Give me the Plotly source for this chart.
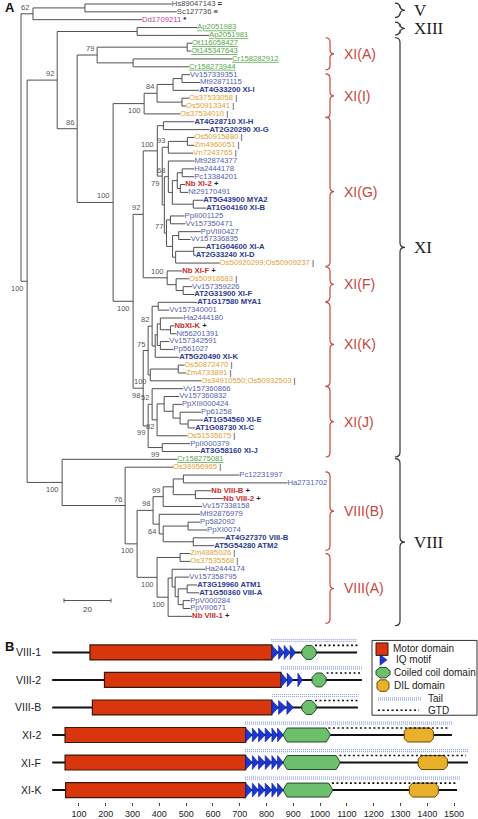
import re
import plotly.graph_objects as go

W, H = 478, 819

# ---------------- Panel A data ----------------
leaf_names = [
    "Hs89047143", "Sc127736", "Dd1709211", "Ap2051983", "Ap2051981", "Ot116058427",
    "Ot145347643", "Cr158282912", "Cr158273944", "Vv157339351", "Mt92871115",
    "AT4G33200 XI-I", "Os37533058", "Os50913341", "Os37534010", "AT4G28710 XI-H",
    "AT2G20290 XI-G", "Os50915880", "Zm4960051", "Vn7243765", "Mt92874377", "Ha2444178",
    "Pc13384201", "Nb XI-2", "Nt29170491", "AT5G43900 MYA2", "AT1G04160 XI-B",
    "PpII001125", "Vv157350471", "PpVIII0427", "Vv157336835", "AT1G04600 XI-A",
    "AT2G33240 XI-D", "Os50920299;Os50909237", "Nb XI-F", "Os50918683", "Vv157359226",
    "AT2G31900 XI-F", "AT1G17580 MYA1", "Vv157340001", "Ha2444180", "NbXI-K",
    "Nt56201391", "Vv157342591", "Pp561027", "AT5G20490 XI-K", "Os50872470",
    "Zm4733891", "Os34910550;Os50932503", "Vv157360866", "Vv157360832", "PpXIII000424",
    "Pp61258", "AT1G54560 XI-E", "AT1G08730 XI-C", "Os51535675", "PpII000379",
    "AT3G58160 XI-J", "Cr158275081", "Os36956965", "Pc12231997", "Ha2731702",
    "Nb VIII-B", "Nb VIII-2", "Vv157338158", "Mt92876979", "Pp582092", "PpXI0074",
    "AT4G27370 VIII-B", "AT5G54280 ATM2", "Zm4885026", "Os37535568", "Ha2444174",
    "Vv157358795", "AT3G19960 ATM1", "AT1G50360 VIII-A", "PpV000284", "PpVII0671",
    "Nb VIII-1"]

prefix_group = {"Hs": "out", "Sc": "out", "Dd": "dd", "Ap": "alga", "Ot": "alga",
                "Cr": "alga", "AT": "at", "Nb": "nb", "Os": "mono", "Zm": "mono",
                "Vn": "mono"}
special_marks = {"Hs89047143": "=", "Sc127736": "\u2261", "Dd1709211": "*"}
group_marks = {"mono": "|", "nb": "+"}

# tree (Newick, leaves = L<index>, internal label = bootstrap + ^above/_below)
nw_V = "((L0:37.0,L1:39.1):22.1,L2:46.4)62^"
nw_XIII = "(L3:25.5,L4:30.6)"
nw_XIA = "((L5:2.1,L6:1.7):38.3,(L7:42.1,L8:23.8):15.3)79^"
nw_XII = "((((L9:3.4,L10:7.7):3.8,L11:11.1):6.8,(L12:3.0,L13:1.7):10.6)84^:5.5,L14:15.3)100_"
nw_G_a = "((L17:3.0,L18:3.0):8.1,L19:10.6)93^"
nw_G_b = "(L20:11.1,(((L21:5.1,L22:5.1):2.1,(L23:2.1,L24:3.4):1.3):2.1,(L25:4.3,L26:5.5):8.9):1.7)68^"
nw_G_c = "((L27:6.0,L28:6.4):1.7,((L29:9.4,L30:5.1):2.6,((L31:5.1,L32:0.9):7.7,L33:18.7):1.3):2.6)77^"
nw_XIG = "((L15:13.2,L16:19.6):2.6,(" + nw_G_a + ":2.6,(" + nw_G_b + ":1.7," + nw_G_c + ":0.9):0.9)79_:2.1)100^"
nw_XIF = "(L34:6.4,(L35:5.5,(L36:3.8,L37:4.7):3.0):3.8)100^"
nw_XIK = ("(((L38:16.6,L39:4.7):2.6,(((L40:9.8,(L41:1.7,L42:2.6):4.3):1.3,(L43:3.8,L44:5.5):1.3):0.9,"
          "L45:10.2):1.3)82^:1.7,((L46:2.6,L47:3.4):11.9,L48:21.7)100_:0.9)75^")
nw_XIJ = ("((L49:13.2,((L50:6.4,(L51:3.8,(L52:8.9,(L53:6.4,L54:3.0):3.4):3.0):3.8):3.0,L55:12.8)82_:2.1)52^:1.7,"
          "(L56:11.9,L57:16.2)99_:6.0)99_")
nw_VIIIB = ("((((L60:23.8,L61:44.3):4.3,(L62:6.8,L63:11.9):9.4):4.3,L64:16.6)99^:4.3,"
            "(L65:17.4,((L66:5.1,L67:8.1):10.6,(L68:13.6,L69:8.9):12.8):1.7)64_:2.6)98^")
nw_VIIIA = ("((L70:4.3,L71:4.3):9.8,((L72:14.0,(L73:6.0,((L74:4.3,L75:5.1):3.8,(L76:3.0,L77:3.0):2.1):1.3):1.3):1.7,"
            "L78:10.2)100_:4.7)100_")
nw_VIII = "(L58:48.9,(L59:20.4,(" + nw_VIIIB + ":6.8," + nw_VIIIA + ":8.5)100_:5.1)76^:26.8)100_"
nw_XI = ("(" + nw_XIA + ":8.5,(" + nw_XII + ":13.2,((" + nw_XIG + ":6.0," + nw_XIF + ":10.2)92^:4.3,("
         + nw_XIK + ":2.1," + nw_XIJ + ":2.1)98_:4.3)100_:8.5)100^:15.3)86^")
tree_newick = "(" + nw_V + ":5.1,((" + nw_XIII + ":34.0," + nw_XI + ":8.5)92^:12.8," + nw_VIII + ":14.9)100_:2.6);"

scale_bar_len = 20

red_clades = [("XI(A)", 4.3, 8.4), ("XI(I)", 8.9, 14.5), ("XI(G)", 14.4, 33.4),
              ("XI(F)", 33.5, 37.9), ("XI(K)", 38.0, 48.7), ("XI(J)", 48.7, 57.7),
              ("VIII(B)", 59.6, 69.6), ("VIII(A)", 70.0, 78.9)]
black_clades = [("V", -0.1, 1.7), ("XIII", 2.3, 3.95), ("XI", 4.3, 57.7), ("VIII", 57.9, 79.2)]

# ---------------- Panel B data ----------------
proteins = ["VIII-1", "VIII-2", "VIII-B", "XI-2", "XI-F", "XI-K"]
prot_len = [1138, 1156, 1141, 1492, 1552, 1511]
motor = [(141, 820), (195, 854), (150, 820), (48, 722), (48, 722), (50, 722)]
iq_xi = [(722, 747), (747, 770), (770, 795), (795, 820), (820, 841), (841, 863)]
iq = [[(820, 845), (845, 866), (866, 888), (888, 909)],
      [(855, 877), (877, 900), (917, 934)],
      [(820, 845), (845, 874), (876, 901)],
      iq_xi, iq_xi, iq_xi]
coil = [(932, 985), (970, 1022), (932, 985), (863, 1037), (863, 1074), (863, 1046)]
dil = [None, None, None, (1314, 1423), (1366, 1475), (1333, 1441)]
tail = [(818, 1138), (854, 1156), (820, 1143), (720, 1497), (720, 1553), (720, 1522)]
gtd = [(981, 1143), (1024, 1156), (981, 1143), (1031, 1485), (1072, 1545), (1044, 1512)]
tick_vals = list(range(100, 1501, 100))

# ---------------- helpers / layout constants ----------------
PXU = 2.35           # px per tree unit
X0PX = 21            # root px
ROW0, ROWSTEP = 4, 7.87
def U(px):
    return (px - X0PX) / PXU
def PX(x):
    return x / W
def PY(y):
    return 1 - y / H

FONT = "Liberation Sans, Arial, sans-serif"

# ---------------- parse tree ----------------
def parse_newick(s):
    s = re.sub(r"\s+", "", s).rstrip(";")
    pos = 0
    def node():
        nonlocal pos
        ch = []
        if s[pos] == "(":
            pos += 1
            while True:
                ch.append(node())
                if s[pos] == ",":
                    pos += 1
                    continue
                pos += 1
                break
        m = re.match(r"[^:,()]*", s[pos:])
        lab = m.group(0)
        pos += len(lab)
        bl = 0.0
        if pos < len(s) and s[pos] == ":":
            pos += 1
            m = re.match(r"[0-9.]+", s[pos:])
            bl = float(m.group(0))
            pos += len(m.group(0))
        return {"label": lab, "bl": bl, "children": ch}
    return node()

root = parse_newick(tree_newick)
counter = [0]
def layout(n, x):
    n["x"] = x + n["bl"]
    if not n["children"]:
        n["leaf"] = int(n["label"][1:])
        n["y"] = counter[0]
        counter[0] += 1
    else:
        for c in n["children"]:
            layout(c, n["x"])
        n["y"] = (n["children"][0]["y"] + n["children"][-1]["y"]) / 2
root["bl"] = 0.0
layout(root, 0.0)

lx, ly = [], []
nodes = []
def collect(n):
    nodes.append(n)
    if n["children"]:
        ys = [c["y"] for c in n["children"]]
        lx.extend([n["x"], n["x"], None]); ly.extend([min(ys), max(ys), None])
        for c in n["children"]:
            lx.extend([n["x"], c["x"], None]); ly.extend([c["y"], c["y"], None])
            collect(c)
collect(root)

GROUP_STYLE = {
    "out": ("#4a4a4a", False, False),
    "dd": ("#c23f9e", False, False),
    "alga": ("#58a84c", False, True),
    "dicot": ("#5560ae", False, False),
    "at": ("#2b3990", True, False),
    "mono": ("#e3a036", False, False),
    "nb": ("#cc2b2b", True, False),
}

def leaf_group(name):
    return prefix_group.get(name[:2], "dicot")

tip_x, tip_y, tip_text, tip_col = [], [], [], []
for n in nodes:
    if n["children"]:
        continue
    name = leaf_names[n["leaf"]]
    g = leaf_group(name)
    col, bold, ul = GROUP_STYLE[g]
    t = name
    if ul:
        t = '<span style="text-decoration:underline">' + t + "</span>"
    if bold:
        t = "<b>" + t + "</b>"
    mk = special_marks.get(name, group_marks.get(g))
    if mk:
        w = "bold" if mk != "|" else "normal"
        t += ' <span style="color:#222;font-weight:%s">%s</span>' % (w, mk)
    tip_x.append(n["x"]); tip_y.append(n["y"]); tip_text.append(t); tip_col.append(col)

fig = go.Figure()
fig.add_trace(go.Scatter(x=lx, y=ly, mode="lines", line=dict(color="#505050", width=1),
                         hoverinfo="skip", xaxis="x", yaxis="y", showlegend=False))
fig.add_trace(go.Scatter(x=tip_x, y=tip_y, mode="text", text=tip_text,
                         textposition="middle right", cliponaxis=False,
                         textfont=dict(size=7.7, color=tip_col, family=FONT),
                         hoverinfo="skip", xaxis="x", yaxis="y", showlegend=False))

# scale bar
sb_x0 = U(64)
sb_y = (602 - ROW0) / ROWSTEP
fig.add_trace(go.Scatter(
    x=[sb_x0, sb_x0 + scale_bar_len, None, sb_x0, sb_x0, None, sb_x0 + scale_bar_len, sb_x0 + scale_bar_len],
    y=[sb_y, sb_y, None, sb_y - 0.25, sb_y + 0.25, None, sb_y - 0.25, sb_y + 0.25],
    mode="lines", line=dict(color="#555555", width=1), hoverinfo="skip",
    xaxis="x", yaxis="y", showlegend=False))

annotations = []
annotations.append(dict(x=sb_x0 + scale_bar_len / 2, y=sb_y + 0.35, xref="x", yref="y",
                        text=str(scale_bar_len), showarrow=False, yanchor="top",
                        font=dict(size=8, color="#444", family=FONT)))

# bootstrap labels
for n in nodes:
    lab = n["label"]
    if n["children"] and lab:
        val, pos = lab[:-1], lab[-1]
        above = pos == "^"
        annotations.append(dict(x=n["x"], y=n["y"], xref="x", yref="y", text=val,
                                showarrow=False, xanchor="right",
                                yanchor="bottom" if above else "top",
                                xshift=-1.5, yshift=0 if above else -0.5,
                                font=dict(size=7.5, color="#555", family=FONT)))

shapes = []

def brace_path(x0, x1, x2, top, bot, r):
    mid = (top + bot) / 2
    return ("M%.3f,%.3f Q%.3f,%.3f %.3f,%.3f L%.3f,%.3f Q%.3f,%.3f %.3f,%.3f "
            "Q%.3f,%.3f %.3f,%.3f L%.3f,%.3f Q%.3f,%.3f %.3f,%.3f") % (
        x0, top, x1, top, x1, top + r, x1, mid - r, x1, mid, x2, mid,
        x1, mid, x1, mid + r, x1, bot - r, x1, bot, x0, bot)

for name, a, b in red_clades:
    shapes.append(dict(type="path", xref="x", yref="y",
                       path=brace_path(U(325.5), U(330), U(334), a, b, 0.55),
                       line=dict(color="#c8453d", width=1.2)))
    annotations.append(dict(x=PX(342), y=(a + b) / 2, xref="paper", yref="y", text=name,
                            showarrow=False, xanchor="left", yanchor="middle",
                            font=dict(size=14, color="#c8453d", family=FONT)))
for name, a, b in black_clades:
    shapes.append(dict(type="path", xref="x", yref="y",
                       path=brace_path(U(395), U(400), U(405), a, b, 0.6),
                       line=dict(color="#333333", width=1.2)))
    annotations.append(dict(x=PX(412), y=(a + b) / 2, xref="paper", yref="y", text=name,
                            showarrow=False, xanchor="left", yanchor="middle",
                            font=dict(size=17, color="#222", family="Liberation Serif, Times New Roman, serif")))

# ---------------- Panel B ----------------
ROWPX = 27.6
B_TOP, B_BOT = 640, 804
def R(px):
    return px / ROWPX

bx, by = [], []
for i, L in enumerate(prot_len):
    bx.extend([0, L, None]); by.extend([i, i, None])
fig.add_trace(go.Scatter(x=bx, y=by, mode="lines", line=dict(color="#111111", width=2),
                         hoverinfo="skip", xaxis="x2", yaxis="y2", showlegend=False))

def octagon(x0, x1, yc, h, hs, c):
    pts = [(x0, yc - hs), (x0 + c, yc - h), (x1 - c, yc - h), (x1, yc - hs),
           (x1, yc + hs), (x1 - c, yc + h), (x0 + c, yc + h), (x0, yc + hs)]
    return "M" + " L".join("%.4f,%.4f" % p for p in pts) + " Z"

hd = R(7)
for i in range(len(proteins)):
    m0, m1 = motor[i]
    shapes.append(dict(type="rect", xref="x2", yref="y2", x0=m0, x1=m1, y0=i - R(7.5), y1=i + R(7.5),
                       fillcolor="#d9360d", line=dict(color="#3a1808", width=1.2)))
    for s, e in iq[i]:
        shapes.append(dict(type="path", xref="x2", yref="y2",
                           path="M%.2f,%.4f L%.2f,%.4f L%.2f,%.4f Z" % (s, i - hd, e, i, s, i + hd),
                           fillcolor="#1c36d2", line=dict(color="#13239a", width=0.6)))
    c0, c1 = coil[i]
    cc = 16 if (c1 - c0) < 80 else 14
    shapes.append(dict(type="path", xref="x2", yref="y2",
                       path=octagon(c0, c1, i, hd, R(2.5) if (c1 - c0) < 80 else R(0.8), cc),
                       fillcolor="#6cbf6c", line=dict(color="#24492a", width=1)))
    if dil[i]:
        d0, d1 = dil[i]
        shapes.append(dict(type="path", xref="x2", yref="y2",
                           path=octagon(d0, d1, i, hd, R(3.5), 12),
                           fillcolor="#e9b02b", line=dict(color="#6a4c05", width=1)))
    t0, t1 = tail[i]
    for off in (13, 11):
        shapes.append(dict(type="line", xref="x2", yref="y2", x0=t0, x1=t1, y0=i - R(off), y1=i - R(off),
                           line=dict(color="#8b9ee6", width=1.2, dash="1px,1px")))
    g0, g1 = gtd[i]
    shapes.append(dict(type="line", xref="x2", yref="y2", x0=g0, x1=g1, y0=i - R(7), y1=i - R(7),
                       line=dict(color="#111111", width=1.6, dash="2px,2.5px")))
    annotations.append(dict(x=PX(43), y=i, xref="paper", yref="y2", text=proteins[i],
                            showarrow=False, xanchor="right", yanchor="middle",
                            font=dict(size=10.5, color="#222", family=FONT)))

# legend box (panel B)
shapes.append(dict(type="rect", xref="paper", yref="paper", x0=PX(372), x1=PX(477),
                   y0=PY(717), y1=PY(642), line=dict(color="#333", width=1), fillcolor="white",
                   layer="below"))
shapes.append(dict(type="rect", xref="paper", yref="paper", x0=PX(376), x1=PX(388),
                   y0=PY(657), y1=PY(644.5), fillcolor="#d9360d", line=dict(color="#3a1808", width=1)))
shapes.append(dict(type="path", xref="paper", yref="paper",
                   path="M%.5f,%.5f L%.5f,%.5f L%.5f,%.5f Z" % (PX(380), PY(656), PX(387), PY(661.5), PX(380), PY(667)),
                   fillcolor="#1c36d2", line=dict(color="#13239a", width=0.6)))
def oct_paper(x0, x1, y0, y1, c, hs):
    yc = (y0 + y1) / 2
    pts = [(x0, yc - hs), (x0 + c, y0), (x1 - c, y0), (x1, yc - hs), (x1, yc + hs),
           (x1 - c, y1), (x0 + c, y1), (x0, yc + hs)]
    return "M" + " L".join("%.5f,%.5f" % (PX(a), PY(b)) for a, b in pts) + " Z"
shapes.append(dict(type="path", xref="paper", yref="paper", path=oct_paper(376, 390, 669, 679.5, 4, 2),
                   fillcolor="#6cbf6c", line=dict(color="#24492a", width=1)))
shapes.append(dict(type="path", xref="paper", yref="paper", path=oct_paper(377, 389, 681.5, 693, 3, 3),
                   fillcolor="#e9b02b", line=dict(color="#6a4c05", width=1)))
for yy in (699.5, 701.5):
    shapes.append(dict(type="line", xref="paper", yref="paper", x0=PX(378), x1=PX(422), y0=PY(yy), y1=PY(yy),
                       line=dict(color="#8b9ee6", width=1.2, dash="1px,1px")))
shapes.append(dict(type="line", xref="paper", yref="paper", x0=PX(378), x1=PX(419), y0=PY(712), y1=PY(712),
                   line=dict(color="#111111", width=1.6, dash="2px,2.5px")))
for txt, x, y in [("Motor domain", 391, 650.5), ("IQ motif", 394, 661.5), ("Coiled coil domain", 391.5, 674.5),
                  ("DIL domain", 392, 687.5), ("Tail", 426, 700.5), ("GTD", 426, 712)]:
    annotations.append(dict(x=PX(x), y=PY(y), xref="paper", yref="paper", text=txt, showarrow=False,
                            xanchor="left", yanchor="middle", font=dict(size=10, color="#222", family=FONT)))

for txt, y in [("A", 8), ("B", 648)]:
    annotations.append(dict(x=PX(3), y=PY(y), xref="paper", yref="paper", text="<b>%s</b>" % txt,
                            showarrow=False, xanchor="left", yanchor="middle",
                            font=dict(size=13, color="#111", family=FONT)))

fig.update_layout(
    width=W, height=H, margin=dict(l=0, r=0, t=0, b=0), autosize=False,
    paper_bgcolor="white", plot_bgcolor="white", showlegend=False, hovermode=False,
    font=dict(family=FONT),
    xaxis=dict(domain=[0, 1], range=[U(0), U(W)], visible=False, fixedrange=True),
    yaxis=dict(domain=[1 - 640 / H, 1], range=[(640 - ROW0) / ROWSTEP, -ROW0 / ROWSTEP],
               visible=False, fixedrange=True),
    xaxis2=dict(domain=[0, 1], anchor="y2", range=[-52.2 / 0.2679, (W - 52.2) / 0.2679],
                tickvals=tick_vals, ticks="outside", ticklen=3, tickcolor="#444",
                showline=False, showgrid=False, zeroline=False,
                tickfont=dict(size=9, color="#222", family=FONT), fixedrange=True),
    yaxis2=dict(domain=[(H - B_BOT) / H, 1 - B_TOP / H], anchor="x2",
                range=[(B_BOT - 654) / ROWPX, (B_TOP - 654) / ROWPX], visible=False, fixedrange=True),
    shapes=shapes, annotations=annotations,
)

fig.write_html("out.html", config={"displayModeBar": False},
               post_script="document.body.style.margin='0';document.body.style.overflow='hidden';")
